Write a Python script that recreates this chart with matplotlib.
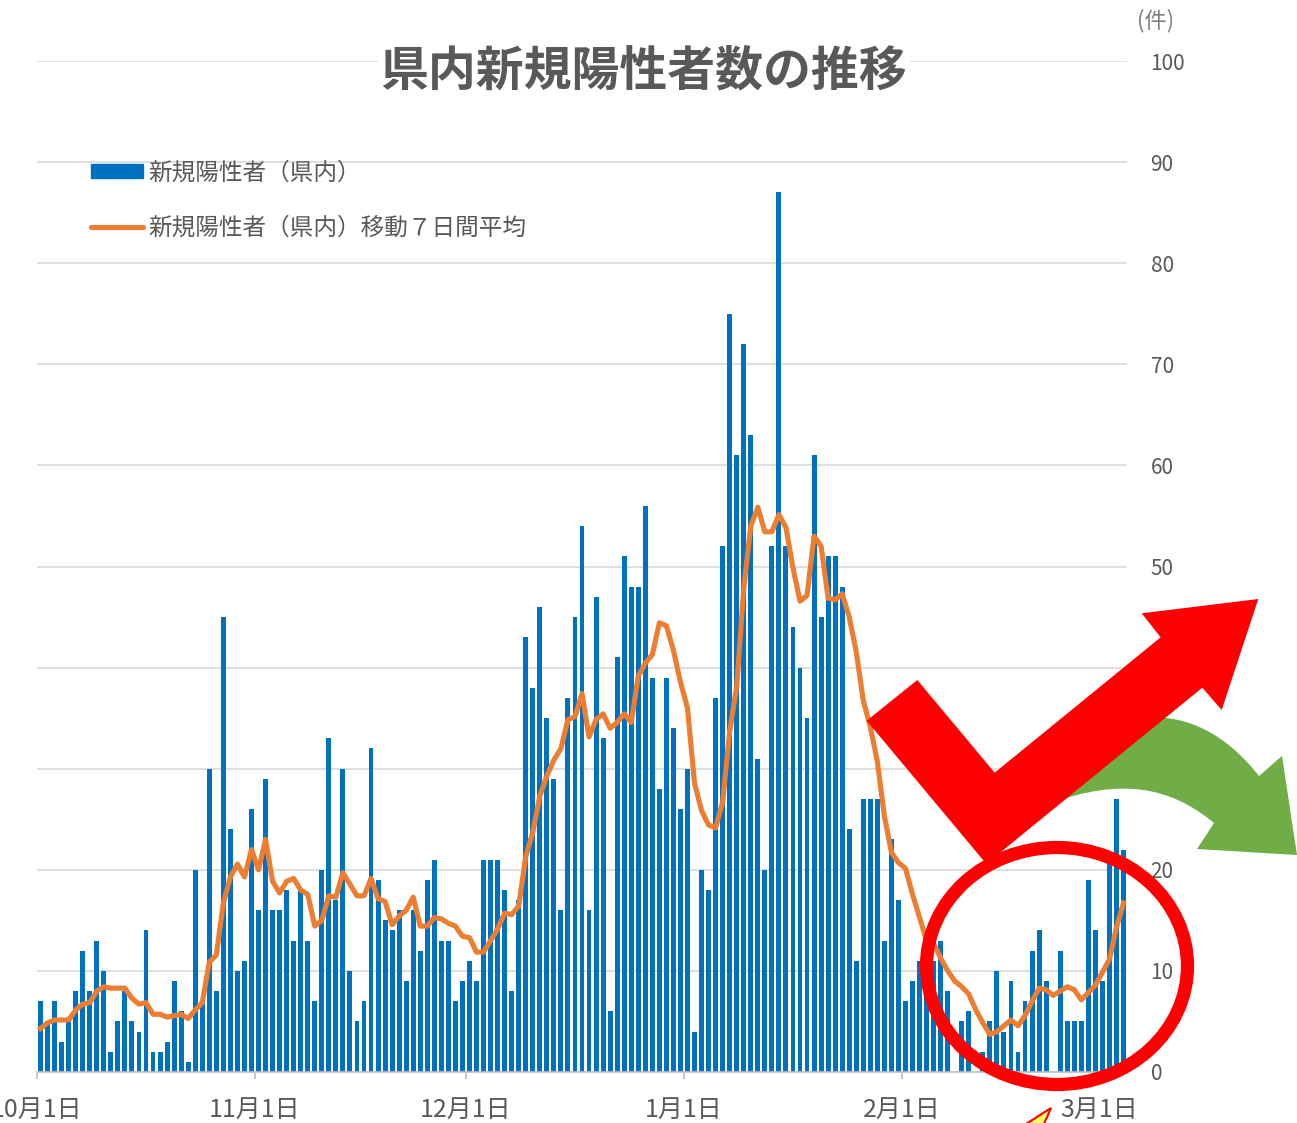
import matplotlib
matplotlib.use('Agg')
import matplotlib.pyplot as plt
import matplotlib.dates as mdates
from matplotlib.patches import Polygon, Ellipse, PathPatch, Patch
from matplotlib.lines import Line2D
from matplotlib.path import Path
from matplotlib.ticker import FuncFormatter
import pandas as pd

plt.rcParams['font.family'] = ['Noto Sans CJK JP', 'DejaVu Sans']

# daily new positives (prefecture), starting 2020-10-01
start_date = '2020-10-01'
new_cases = [
    7, 5, 7, 3, 5, 8, 12, 8, 13, 10,
    2, 5, 8, 5, 4, 14, 2, 2, 3, 9,
    6, 1, 20, 7, 30, 8, 45, 24, 10, 11,
    26, 16, 29, 16, 16, 18, 13, 18, 13, 7,
    20, 33, 17, 30, 10, 5, 7, 32, 19, 15,
    14, 16, 9, 16, 12, 19, 21, 13, 13, 7,
    9, 11, 9, 21, 21, 21, 18, 8, 17, 43,
    38, 46, 35, 29, 16, 37, 45, 54, 16, 47,
    33, 6, 41, 51, 48, 48, 56, 39, 28, 39,
    34, 26, 30, 4, 20, 18, 37, 52, 75, 61,
    72, 63, 31, 20, 52, 87, 52, 44, 40, 35,
    61, 45, 51, 51, 48, 24, 11, 27, 27, 27,
    13, 23, 17, 7, 9, 11, 11, 11, 13, 8,
    0, 5, 6, 0, 2, 5, 10, 4, 9, 2,
    7, 12, 14, 9, 0, 12, 5, 5, 5, 19,
    14, 9, 21, 27, 22,
]

# 7-day moving average
avg_7day = [
    4.29, 4.86, 5.14, 5.14, 5.14, 6.14, 6.71, 6.86, 8.00, 8.43,
    8.29, 8.29, 8.29, 7.29, 6.71, 6.86, 5.71, 5.71, 5.43, 5.57,
    5.71, 5.29, 6.14, 6.86, 10.86, 11.57, 16.71, 19.29, 20.57, 19.29,
    22.00, 20.00, 23.00, 18.86, 17.71, 18.86, 19.14, 18.00, 17.57, 14.43,
    15.00, 17.43, 17.29, 19.71, 18.57, 17.43, 17.43, 19.14, 17.14, 16.86,
    14.57, 15.43, 16.00, 17.29, 14.43, 14.43, 15.29, 15.14, 14.71, 14.43,
    13.43, 13.29, 11.86, 11.86, 13.00, 14.14, 15.71, 15.57, 16.43, 21.29,
    23.71, 27.29, 29.29, 30.86, 32.00, 34.86, 35.14, 37.43, 33.14, 34.86,
    35.43, 34.00, 34.57, 35.43, 34.57, 39.14, 40.43, 41.29, 44.43, 44.14,
    41.71, 38.57, 36.00, 28.57, 25.86, 24.43, 24.14, 26.71, 33.71, 38.14,
    47.86, 54.00, 55.86, 53.43, 53.43, 55.14, 53.86, 49.86, 46.57, 47.14,
    53.00, 52.00, 46.86, 46.71, 47.29, 45.00, 41.57, 36.71, 34.14, 30.71,
    25.29, 21.71, 20.71, 20.14, 17.57, 15.29, 13.00, 12.71, 11.29, 10.00,
    9.00, 8.43, 7.71, 6.14, 4.86, 3.71, 4.00, 4.57, 5.14, 4.57,
    5.57, 7.00, 8.29, 8.14, 7.57, 8.00, 8.43, 8.14, 7.14, 7.86,
    8.57, 9.86, 11.14, 14.29, 16.71,
]

month_ticks = ['2020-10-01', '2020-11-01', '2020-12-01', '2021-01-01', '2021-02-01', '2021-03-01']
y_ticks = [0, 10, 20, 30, 40, 50, 60, 70, 80, 90, 100]

bar_label = '新規陽性者（県内）'
line_label = '新規陽性者（県内）移動７日間平均'
title = '県内新規陽性者数の推移'

W, H = 1297, 1123
fig = plt.figure(figsize=(W / 100, H / 100), dpi=100)

days = pd.date_range(start_date, periods=len(new_cases), freq='D')
centers = (days + pd.Timedelta(hours=12)).to_pydatetime()

ax = fig.add_axes([37 / W, (H - 1072) / H, (1127 - 37) / W, (1072 - 61) / H])
ax.bar(centers, new_cases, width=0.7, color='#0070C0', zorder=2)
ax.plot(centers, avg_7day, color='#ED7D31', lw=3.7, zorder=3, solid_joinstyle='round')

ax.set_xlim(days[0].to_pydatetime(), (days[-1] + pd.Timedelta(days=1)).to_pydatetime())
ax.set_ylim(0, 100)
ax.set_xticks([mdates.date2num(pd.Timestamp(t).to_pydatetime()) for t in month_ticks])
ax.xaxis.set_major_formatter(FuncFormatter(
    lambda v, p: '{}月{}日'.format(mdates.num2date(v).month, mdates.num2date(v).day)))
ax.set_yticks(y_ticks)
ax.yaxis.tick_right()
ax.grid(axis='y', color='#d9d9d9', lw=1.2, zorder=0)
ax.set_axisbelow(True)
for s in ['top', 'left', 'right']:
    ax.spines[s].set_visible(False)
ax.spines['bottom'].set_color('#bfbfbf')
ax.spines['bottom'].set_linewidth(1.2)
ax.tick_params(axis='x', length=5, color='#bfbfbf', width=1.2, pad=13,
               labelsize=18, labelcolor='#595959')
ax.tick_params(axis='y', length=0, pad=17, labelsize=15, labelcolor='#595959')
for lb in ax.get_yticklabels():
    lb.set_horizontalalignment('left')

handles = [Patch(color='#0070C0'), Line2D([], [], color='#ED7D31', lw=3.7, solid_capstyle='round')]
ax.legend(handles, [bar_label, line_label], loc='upper left',
          bbox_to_anchor=(45 / (1127 - 37), (1072 - 152) / (1072 - 61)),
          frameon=False, fontsize=17, labelcolor='#595959', handleheight=0.55,
          handlelength=2.2, handletextpad=0.2, labelspacing=1.35, borderaxespad=0)

fig.text(644 / W, 1 - 71 / H, title, ha='center', va='center', fontsize=34.5,
         fontweight='bold', color='#595959',
         bbox=dict(facecolor='white', edgecolor='none', pad=2))
fig.text(1156 / W, 1 - 21 / H, '(件)', ha='center', va='center', fontsize=16, color='#7f7f7f')

# overlay shapes drawn in pixel coordinates
ov = fig.add_axes([0, 0, 1, 1], zorder=10)
ov.set_xlim(0, W)
ov.set_ylim(H, 0)
ov.axis('off')
ov.patch.set_alpha(0)

green = Path(
    [(1060, 765), (1105, 712), (1190, 688), (1259, 776),
     (1282, 756), (1297, 855), (1197, 849), (1214, 823),
     (1180, 795), (1135, 775), (1060, 800), (1060, 765)],
    [Path.MOVETO, Path.CURVE4, Path.CURVE4, Path.CURVE4,
     Path.LINETO, Path.LINETO, Path.LINETO, Path.LINETO,
     Path.CURVE4, Path.CURVE4, Path.CURVE4, Path.CLOSEPOLY])
ov.add_patch(PathPatch(green, facecolor='#70AD47', edgecolor='none'))

check = [(866.7, 720.7), (917.3, 680), (994.7, 772.7), (1160.7, 637.3), (1141.7, 613.3),
         (1258.3, 599), (1221.7, 710), (1202.3, 687.7), (986.3, 863.9)]
ov.add_patch(Polygon(check, closed=True, facecolor='#FF0000', edgecolor='none'))

ov.add_patch(Ellipse((1057, 966), 261, 237, fill=False, edgecolor='#FF0000', lw=9.5))

ov.add_patch(Polygon([(1051, 1108), (1044, 1124), (1026, 1124)], closed=True,
                     facecolor='#FFFF66', edgecolor='#FF0000', lw=1.5))

fig.savefig('out.png', dpi=100)
